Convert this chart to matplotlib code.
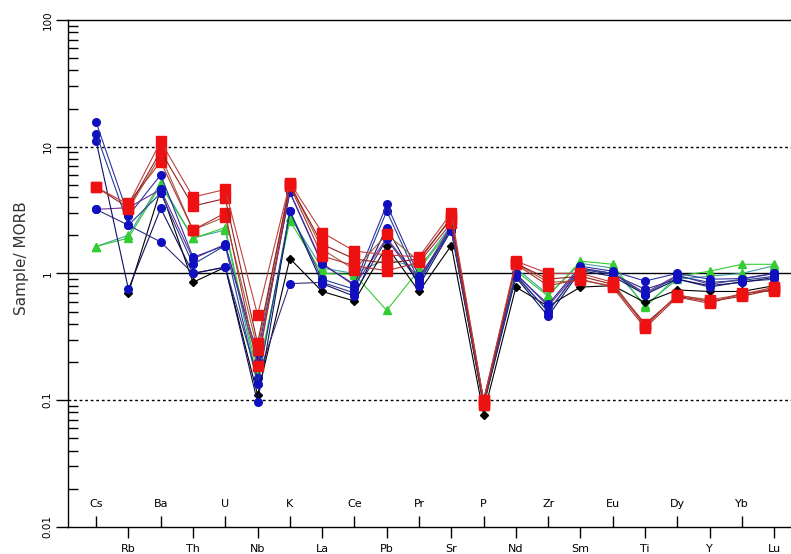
import numpy as np
import matplotlib
matplotlib.use("Agg")
import matplotlib.pyplot as plt
from matplotlib.ticker import LogLocator, NullFormatter

# MORB-normalised spider diagram
elements = ['Cs', 'Rb', 'Ba', 'Th', 'U', 'Nb', 'K', 'La', 'Ce', 'Pb', 'Pr',
            'Sr', 'P', 'Nd', 'Zr', 'Sm', 'Eu', 'Ti', 'Dy', 'Y', 'Yb', 'Lu']
nan = np.nan

# red square samples
red1 = [4.8, 3.5, 11.0, 4.0, 4.6, 0.47, 5.2, 2.1, 1.5, 1.4, 1.35, 3.0, 0.10, 1.25, 1.0, 1.0, 0.85, 0.38, 0.68, 0.60, 0.68, 0.78]
red2 = [4.8, 3.3, 9.2, 3.4, 3.9, 0.28, 5.0, 1.7, 1.3, 1.2, 1.3, 2.7, 0.095, 1.2, 0.9, 0.95, 0.82, 0.40, 0.66, 0.60, 0.66, 0.75]
red3 = [nan, 3.6, 7.6, 2.2, 3.0, 0.185, 4.9, 1.37, 1.15, 1.05, 1.22, 2.5, 0.092, 1.18, 0.8, 0.9, 0.78, 0.37, 0.65, 0.58, 0.70, 0.73]
red4 = [nan, 3.2, 8.5, 2.2, 2.8, 0.25, 5.1, 1.55, 1.07, 2.03, 1.25, 2.8, 0.10, 1.2, 0.85, 0.88, 0.80, 0.39, 0.67, 0.62, 0.68, 0.76]
# blue circle samples
blue1 = [15.6, 2.85, 6.0, 1.34, 1.66, 0.23, 4.35, 1.18, 0.82, 3.5, 0.95, 2.16, 0.10, 0.98, 0.57, 1.14, 1.04, 0.87, 1.0, 0.90, 0.91, 1.0]
blue2 = [12.7, 2.4, 4.3, 1.18, 1.66, 0.133, 3.1, 0.9, 0.75, 3.1, 0.87, 2.3, 0.095, 0.95, 0.50, 1.1, 1.0, 0.68, 0.95, 0.85, 0.88, 0.95]
blue3 = [11.1, 0.75, 3.26, 1.0, 1.12, 0.096, 3.1, 0.83, 0.66, 2.3, 0.80, 2.2, 0.09, 0.93, 0.46, 1.05, 0.95, 0.68, 0.90, 0.80, 0.85, 0.93]
blue4 = [3.2, 3.3, 4.6, 1.3, 1.7, 0.20, 4.4, 1.2, 0.80, 1.9, 0.90, 2.4, 0.10, 1.0, 0.55, 1.1, 1.0, 0.70, 0.97, 0.82, 0.90, 1.0]
blue5 = [3.2, 2.4, 1.77, 1.0, 1.12, 0.15, 0.83, 0.85, 0.70, 1.86, 0.85, 2.3, 0.097, 0.97, 0.50, 1.08, 0.98, 0.75, 0.90, 0.78, 0.86, 0.90]
# green triangle samples
green1 = [1.63, 1.9, 5.0, 1.89, 2.3, 0.16, 2.6, 1.0, 0.98, 0.51, 1.07, 2.3, 0.09, 1.05, 0.66, 1.25, 1.18, 0.54, 0.95, 1.04, 1.18, 1.18]
green2 = [1.63, 2.0, 5.2, 1.9, 2.2, 0.14, 2.8, 1.1, 1.0, 1.3, 1.1, 2.4, 0.09, 1.1, 0.68, 1.2, 1.1, 0.56, 0.90, 0.95, 1.0, 1.15]
# black diamond sample
black1 = [nan, 0.7, 4.6, 0.85, 1.12, 0.11, 1.31, 0.72, 0.605, 1.64, 0.72, 1.66, 0.077, 0.78, 0.55, 0.78, 0.80, 0.59, 0.74, 0.72, 0.72, 0.80]

series = [
    (green2, '#40a0a0', '#33cc33', '^', 6),
    (green1, '#33cc33', '#33cc33', '^', 6),
    (black1, '#000000', '#000000', 'D', 4),
    (blue5, '#303080', '#1010c0', 'o', 5.5),
    (blue4, '#703090', '#1010c0', 'o', 5.5),
    (blue3, '#101060', '#1010c0', 'o', 5.5),
    (blue2, '#204090', '#1010c0', 'o', 5.5),
    (blue1, '#3030a0', '#1010c0', 'o', 5.5),
    (red4, '#a06040', '#ee1111', 's', 6.5),
    (red3, '#b03030', '#ee1111', 's', 6.5),
    (red2, '#902020', '#ee1111', 's', 6.5),
    (red1, '#c04040', '#ee1111', 's', 6.5),
]

fig = plt.figure(figsize=(7.91, 5.54), dpi=100)
ax = fig.add_axes([0.086, 0.049, 0.914, 0.915])

x = np.arange(len(elements))
for vals, lc, mc, mk, ms in series:
    ax.plot(x, vals, color=lc, lw=0.8, marker=mk, ms=ms,
            mfc=mc, mec=mc, zorder=3)

ax.set_yscale('log')
ax.set_ylim(0.01, 100)
ax.set_xlim(-0.87, 21.52)

# reference lines
ax.axhline(10, color='black', lw=1, ls=(0, (2, 2)), zorder=1)
ax.axhline(0.1, color='black', lw=1, ls=(0, (2, 2)), zorder=1)
ax.axhline(1, color='black', lw=1, zorder=1)

for s in ['top', 'left', 'bottom']:
    ax.spines[s].set_linewidth(1)
ax.spines['right'].set_visible(False)

# y axis: major ticks out, minor ticks in
ax.yaxis.set_minor_locator(LogLocator(base=10, subs=np.arange(2, 10), numticks=20))
ax.yaxis.set_minor_formatter(NullFormatter())
ax.set_yticks([0.01, 0.1, 1, 10, 100])
ax.set_yticklabels(['0.01', '0.1', '1', '10', '100'], rotation=90, va='center')
ax.tick_params(axis='y', which='major', direction='out', length=9, width=1,
               labelsize=7.5, pad=2)
ax.tick_params(axis='y', which='minor', direction='in', length=7, width=1)
ax.set_ylabel('Sample/ MORB', fontsize=11, color='#333333')
ax.yaxis.set_label_coords(-0.054, 0.53)

# x axis: alternating labels above and below the axis line
ax.set_xticks(x[1::2], [elements[i] for i in x[1::2]])
ax.set_xticks(x[0::2], [elements[i] for i in x[0::2]], minor=True)
ax.tick_params(axis='x', which='major', direction='out', length=8, width=1,
               labelsize=8, pad=4)
ax.tick_params(axis='x', which='minor', direction='in', length=8, width=1,
               labelsize=8, pad=-20)

fig.savefig('out.png', dpi=100)
